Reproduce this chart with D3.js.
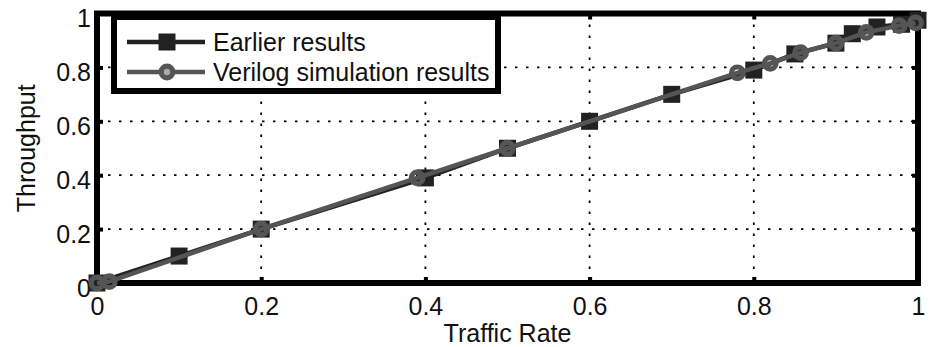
<!DOCTYPE html>
<html>
<head>
<meta charset="utf-8">
<script src="https://cdn.jsdelivr.net/npm/d3@7"></script>
<style>
  html, body { margin: 0; padding: 0; background: #fff; }
  svg { display: block; font-family: "Liberation Sans", Arial, sans-serif; }
</style>
</head>
<body>
<div id="chart"></div>
<script>
// Throughput vs traffic rate, two series

const earlierX = [0, 0.1, 0.2, 0.4, 0.5, 0.6, 0.7, 0.8, 0.85, 0.9, 0.92, 0.95, 0.98, 1.0];
const earlierY = [0, 0.1, 0.2, 0.39, 0.5, 0.6, 0.7, 0.79, 0.85, 0.89, 0.925, 0.95, 0.96, 0.975];

const verilogX = [0, 0.015, 0.2, 0.39, 0.5, 0.78, 0.82, 0.857, 0.9, 0.937, 0.977, 0.997];
const verilogY = [0, 0.005, 0.2, 0.39, 0.5, 0.78, 0.815, 0.855, 0.89, 0.93, 0.955, 0.965];

const tickValues = [0, 0.2, 0.4, 0.6, 0.8, 1];
const seriesNames = ["Earlier results", "Verilog simulation results"];

const width = 933, height = 347;
const margin = { top: 13.5, right: 15, bottom: 64, left: 97 };

const svg = d3.select("#chart").append("svg")
  .attr("width", width)
  .attr("height", height);

const x = d3.scaleLinear().domain([0, 1]).range([margin.left, width - margin.right]);
const y = d3.scaleLinear().domain([0, 1]).range([height - margin.bottom, margin.top]);

const fontSize = 25;

// grid
const gridVals = tickValues.slice(1, -1);
svg.append("g")
  .selectAll("line")
  .data(gridVals)
  .join("line")
  .attr("x1", d => x(d)).attr("x2", d => x(d))
  .attr("y1", y(1)).attr("y2", y(0))
  .attr("stroke", "#000")
  .attr("stroke-width", 1.8)
  .attr("stroke-dasharray", "2.5,8.5");
svg.append("g")
  .selectAll("line")
  .data(gridVals)
  .join("line")
  .attr("y1", d => y(d)).attr("y2", d => y(d))
  .attr("x1", x(0)).attr("x2", x(1))
  .attr("stroke", "#000")
  .attr("stroke-width", 1.8)
  .attr("stroke-dasharray", "2.5,8.5");

// axes (ticks point inward)
const xAxis = svg.append("g")
  .attr("transform", `translate(0,${y(0)})`)
  .call(d3.axisBottom(x).tickValues(tickValues).tickFormat(d3.format("~g"))
    .tickSizeInner(-6).tickSizeOuter(0).tickPadding(14));
const yAxis = svg.append("g")
  .attr("transform", `translate(${x(0)},0)`)
  .call(d3.axisLeft(y).tickValues(tickValues).tickFormat(d3.format("~g"))
    .tickSizeInner(-6).tickSizeOuter(0).tickPadding(6));
// top / right ticks
svg.append("g")
  .attr("transform", `translate(0,${y(1)})`)
  .call(d3.axisTop(x).tickValues(tickValues).tickFormat("").tickSizeInner(-6).tickSizeOuter(0));
svg.append("g")
  .attr("transform", `translate(${x(1)},0)`)
  .call(d3.axisRight(y).tickValues(tickValues).tickFormat("").tickSizeInner(-6).tickSizeOuter(0));

svg.selectAll(".domain").remove();
svg.selectAll(".tick line").attr("stroke", "#000").attr("stroke-width", 4);
svg.selectAll(".tick text")
  .attr("fill", "#111")
  .style("font-size", fontSize + "px")
  .style("font-family", "'Liberation Sans', Arial, sans-serif");
yAxis.selectAll(".tick text").attr("dy", "0.52em");

// frame
svg.append("rect")
  .attr("x", x(0)).attr("y", y(1))
  .attr("width", x(1) - x(0)).attr("height", y(0) - y(1))
  .attr("fill", "none")
  .attr("stroke", "#000")
  .attr("stroke-width", 6);

// series
const earlier = earlierX.map((v, i) => ({ x: v, y: earlierY[i] }));
const verilog = verilogX.map((v, i) => ({ x: v, y: verilogY[i] }));

const line = d3.line().x(d => x(d.x)).y(d => y(d.y));

const sq = 17;
svg.append("path")
  .datum(earlier)
  .attr("fill", "none")
  .attr("stroke", "#222")
  .attr("stroke-width", 4.5)
  .attr("d", line);
svg.append("g")
  .selectAll("rect")
  .data(earlier)
  .join("rect")
  .attr("x", d => x(d.x) - sq / 2)
  .attr("y", d => y(d.y) - sq / 2)
  .attr("width", sq).attr("height", sq)
  .attr("fill", "#222");

svg.append("path")
  .datum(verilog)
  .attr("fill", "none")
  .attr("stroke", "#555")
  .attr("stroke-width", 4.5)
  .attr("d", line);
svg.append("g")
  .selectAll("circle")
  .data(verilog)
  .join("circle")
  .attr("cx", d => x(d.x))
  .attr("cy", d => y(d.y))
  .attr("r", 5.8)
  .attr("fill", "none")
  .attr("stroke", "#555")
  .attr("stroke-width", 5.2);

// legend
const leg = svg.append("g");
leg.append("rect")
  .attr("x", 114).attr("y", 17)
  .attr("width", 384).attr("height", 74)
  .attr("fill", "#fff")
  .attr("stroke", "#000")
  .attr("stroke-width", 6);

const legRows = [
  { name: seriesNames[0], color: "#222", marker: "square", cy: 42 },
  { name: seriesNames[1], color: "#555", marker: "circle", cy: 72 }
];
legRows.forEach(r => {
  leg.append("line")
    .attr("x1", 127).attr("x2", 205)
    .attr("y1", r.cy).attr("y2", r.cy)
    .attr("stroke", r.color)
    .attr("stroke-width", 4.5);
  if (r.marker === "square") {
    leg.append("rect")
      .attr("x", 167 - sq / 2).attr("y", r.cy - sq / 2)
      .attr("width", sq).attr("height", sq)
      .attr("fill", r.color);
  } else {
    leg.append("circle")
      .attr("cx", 167).attr("cy", r.cy)
      .attr("r", 5.8)
      .attr("fill", "#aaa")
      .attr("stroke", r.color)
      .attr("stroke-width", 5.2);
  }
  leg.append("text")
    .attr("x", 213).attr("y", r.cy + 9)
    .style("font-size", fontSize + "px")
    .attr("fill", "#111")
    .text(r.name);
});

// axis labels
svg.append("text")
  .attr("x", (x(0) + x(1)) / 2)
  .attr("y", 342)
  .attr("text-anchor", "middle")
  .style("font-size", fontSize + "px")
  .attr("fill", "#111")
  .text("Traffic Rate");

svg.append("text")
  .attr("transform", `translate(35,${(y(0) + y(1)) / 2}) rotate(-90)`)
  .attr("text-anchor", "middle")
  .style("font-size", fontSize + "px")
  .attr("fill", "#111")
  .text("Throughput");
</script>
</body>
</html>
